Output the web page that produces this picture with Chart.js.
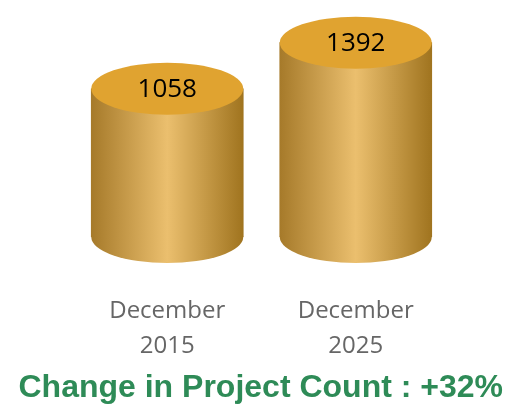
<!DOCTYPE html>
<html lang="en">
<head>
    <meta charset="UTF-8">
    <title>Change in Project Count</title>
    <style>
        html, body { margin: 0; padding: 0; background: #fff; }
        canvas { display: block; }
    </style>
    <script src="https://cdn.jsdelivr.net/npm/chart.js"></script>
</head>
<body>
    <canvas id="myChart" width="507" height="408"></canvas>

    <script>
        const categories = [['December', '2015'], ['December', '2025']];
        const projectCounts = [1058, 1392];
        const chartTitle = 'Change in Project Count : +32%';

        const barWidth = 152;
        const capRadius = 26; // vertical radius of the cylinder ellipses

        // horizontal metal gradient across one bar
        function metalGradient(ctx, centre) {
            const g = ctx.createLinearGradient(centre - barWidth / 2, 0, centre + barWidth / 2, 0);
            g.addColorStop(0, '#A67A2A');
            g.addColorStop(0.5, '#EBBF6E');
            g.addColorStop(1, '#A0741F');
            return g;
        }

        function barFill(context) {
            const centre = context.chart.scales.x.getPixelForValue(context.dataIndex);
            if (!Number.isFinite(centre)) return '#C69A45'; // scales not laid out yet
            return metalGradient(context.chart.ctx, centre);
        }

        // the bars are the cylinder bodies, this adds the round ends and the values
        const cylinderPlugin = {
            id: 'cylinder',
            beforeDatasetsDraw(chart) {
                const ctx = chart.ctx;
                chart.getDatasetMeta(0).data.forEach(bar => {
                    ctx.save();
                    ctx.fillStyle = metalGradient(ctx, bar.x);
                    ctx.beginPath();
                    // full ellipse under the bar so no seam shows at the base
                    ctx.ellipse(bar.x, bar.base, barWidth / 2, capRadius, 0, 0, Math.PI * 2);
                    ctx.fill();
                    ctx.restore();
                });
            },
            afterDatasetsDraw(chart) {
                const ctx = chart.ctx;
                chart.getDatasetMeta(0).data.forEach((bar, i) => {
                    ctx.save();
                    ctx.fillStyle = '#E0A330';
                    ctx.beginPath();
                    ctx.ellipse(bar.x, bar.y, barWidth / 2, capRadius, 0, 0, Math.PI * 2);
                    ctx.fill();
                    ctx.fillStyle = '#000';
                    ctx.font = '26px "Open Sans"';
                    ctx.textAlign = 'center';
                    ctx.textBaseline = 'middle';
                    ctx.fillText(projectCounts[i], bar.x, bar.y + 1);
                    ctx.restore();
                });
            }
        };

        // empty side axes keep the plot narrow without squeezing the title
        const hiddenSide = width => ({
            display: true,
            min: -17,
            max: 1600,
            grid: { display: false },
            border: { display: false },
            ticks: { display: false },
            afterFit(scale) { scale.width = width; }
        });

        const ctx = document.getElementById('myChart').getContext('2d');
        const myChart = new Chart(ctx, {
            type: 'bar',
            data: {
                labels: categories,
                datasets: [{
                    label: 'Project Count',
                    data: projectCounts,
                    base: -17,
                    backgroundColor: barFill,
                    barThickness: barWidth
                }]
            },
            options: {
                responsive: false,
                animation: false,
                layout: { padding: { top: 14, left: 0, right: 4, bottom: 1 } },
                plugins: {
                    legend: { display: false },
                    tooltip: { enabled: false },
                    title: {
                        display: true,
                        text: chartTitle,
                        position: 'bottom',
                        align: 'end',
                        color: '#2E8B57',
                        font: { family: '"Liberation Sans"', size: 32, weight: 'bold' },
                        padding: { top: 4, bottom: 0 }
                    }
                },
                scales: {
                    x: {
                        grid: { display: false },
                        border: { display: false },
                        afterFit(scale) { scale.height = 127.6; },
                        ticks: {
                            color: '#666',
                            padding: 49,
                            maxRotation: 0,
                            font: { family: '"Open Sans"', size: 24, lineHeight: 1.46 }
                        }
                    },
                    y: hiddenSide(73),
                    y2: Object.assign(hiddenSide(53), { position: 'right' })
                }
            },
            plugins: [cylinderPlugin]
        });
    </script>
</body>
</html>
